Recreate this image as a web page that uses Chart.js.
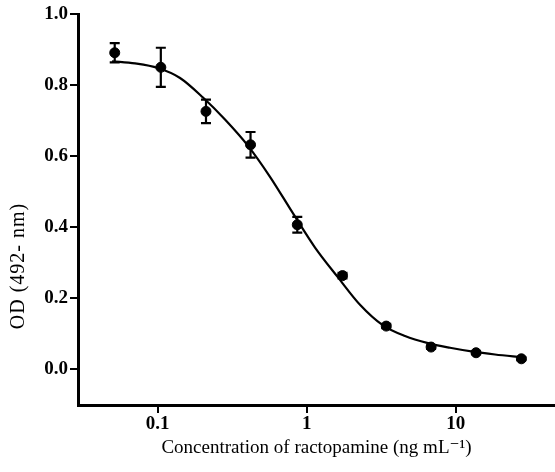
<!DOCTYPE html>
<html>
<head>
<meta charset="utf-8">
<script src="https://cdn.jsdelivr.net/npm/chart.js@4.4.0/dist/chart.umd.min.js"></script>
<style>
html,body{margin:0;padding:0;background:#fff;}
#wrap{width:555px;height:472px;position:relative;}
</style>
</head>
<body>
<div id="wrap"><canvas id="c" width="555" height="472"></canvas></div>
<script>
// Measured data (concentration in ng/mL, OD at 492 nm)
const concentrations = [0.0515, 0.105, 0.211, 0.42, 0.865, 1.74, 3.42, 6.84, 13.7, 27.6];
const odValues      = [0.891, 0.850, 0.726, 0.632, 0.407, 0.264, 0.122, 0.063, 0.047, 0.030];
const odErrors      = [0.027, 0.055, 0.033, 0.036, 0.022, 0.008, 0.006, 0.005, 0.004, 0.004];

// Fitted curve
const fitX = [0.0494, 0.0705, 0.1005, 0.1413, 0.2015, 0.2831, 0.404, 0.5675, 0.810, 1.138, 1.623, 2.280, 3.254, 4.571, 6.522, 9.162, 13.07, 18.37, 27.88];
const fitY = [0.867, 0.861, 0.848, 0.820, 0.765, 0.703, 0.629, 0.542, 0.439, 0.343, 0.259, 0.182, 0.124, 0.094, 0.074, 0.061, 0.050, 0.042, 0.034];

const xTicks = [0.1, 1, 10];
const xTickLabels = ['0.1', '1', '10'];
const yTicks = [0.0, 0.2, 0.4, 0.6, 0.8, 1.0];

const xTitle = 'Concentration of ractopamine (ng mL\u207B\u00B9)';
const yTitle = 'OD (492- nm)';

const FONT = '"Liberation Serif", "DejaVu Serif", serif';

const errorBars = {
  id: 'errorBars',
  afterDatasetsDraw(chart) {
    const ctx = chart.ctx, xs = chart.scales.x, ys = chart.scales.y;
    ctx.save();
    ctx.strokeStyle = '#000';
    ctx.lineWidth = 2.2;
    concentrations.forEach((c, i) => {
      const px = xs.getPixelForValue(c);
      const top = ys.getPixelForValue(odValues[i] + odErrors[i]);
      const bot = ys.getPixelForValue(odValues[i] - odErrors[i]);
      ctx.beginPath();
      ctx.moveTo(px, top); ctx.lineTo(px, bot);
      ctx.moveTo(px - 5, top); ctx.lineTo(px + 5, top);
      ctx.moveTo(px - 5, bot); ctx.lineTo(px + 5, bot);
      ctx.stroke();
    });
    ctx.restore();
  }
};

const yTitlePlugin = {
  id: 'yTitlePlugin',
  afterDraw(chart) {
    const ctx = chart.ctx;
    ctx.save();
    ctx.translate(19, 266);
    ctx.rotate(-Math.PI / 2);
    ctx.font = '20px ' + FONT;
    if ('letterSpacing' in ctx) ctx.letterSpacing = '1px';
    ctx.fillStyle = '#000';
    ctx.textAlign = 'center';
    ctx.textBaseline = 'middle';
    ctx.fillText(yTitle, 0, 0);
    ctx.restore();
  }
};

new Chart(document.getElementById('c'), {
  type: 'scatter',
  data: {
    datasets: [
      {
        type: 'line',
        label: 'fit',
        data: fitX.map((x, i) => ({x, y: fitY[i]})),
        borderColor: '#000',
        borderWidth: 2.2,
        pointRadius: 0,
        fill: false,
        cubicInterpolationMode: 'monotone',
        order: 2
      },
      {
        label: 'OD',
        data: concentrations.map((x, i) => ({x, y: odValues[i]})),
        backgroundColor: '#000',
        borderColor: '#000',
        pointRadius: 5,
        pointHoverRadius: 5,
        order: 1
      }
    ]
  },
  options: {
    responsive: false,
    animation: false,
    events: [],
    layout: { autoPadding: false, padding: { left: 0, right: 0, top: 14, bottom: 0 } },
    plugins: { legend: { display: false }, tooltip: { enabled: false } },
    scales: {
      x: {
        type: 'logarithmic',
        min: 0.0292,
        max: 46.4,
        afterBuildTicks: s => { s.ticks = xTicks.map(v => ({ value: v })); },
        afterFit: s => { s.height = 67; s.paddingRight = 0; s.paddingLeft = 0; },
        ticks: {
          autoSkip: false,
          maxRotation: 0,
          padding: 0,
          color: '#000',
          font: { family: FONT, size: 19, weight: 'bold' },
          callback: (v) => { const i = xTicks.indexOf(v); return i >= 0 ? xTickLabels[i] : ''; }
        },
        grid: { drawOnChartArea: false, drawTicks: true, tickLength: 8, color: '#000', lineWidth: 2 },
        border: { display: true, color: '#000', width: 3 },
        title: { display: true, text: xTitle, color: '#000', font: { family: FONT, size: 19 }, padding: { top: 0, bottom: 13 } }
      },
      y: {
        type: 'linear',
        min: -0.1,
        max: 1.0,
        afterBuildTicks: s => { s.ticks = yTicks.map(v => ({ value: v })); },
        afterFit: s => { s.width = 78; },
        ticks: {
          padding: 2,
          color: '#000',
          font: { family: FONT, size: 19, weight: 'bold' },
          callback: v => Number(v).toFixed(1)
        },
        grid: { drawOnChartArea: false, drawTicks: true, tickLength: 8, color: '#000', lineWidth: 2 },
        border: { display: true, color: '#000', width: 3 }
      }
    }
  },
  plugins: [errorBars, yTitlePlugin]
});
</script>
</body>
</html>
